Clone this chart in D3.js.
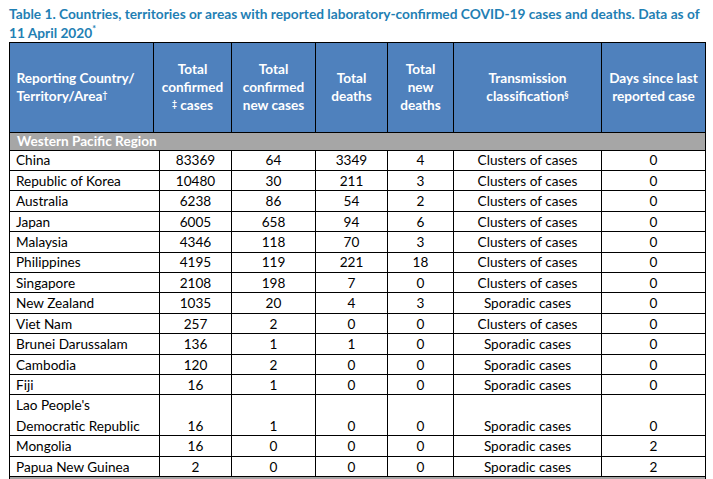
<!DOCTYPE html>
<html>
<head>
<meta charset="utf-8">
<script src="https://cdn.jsdelivr.net/npm/d3@7"></script>
<style>
  html, body { margin: 0; padding: 0; background: #fff; }
  svg { display: block; font-family: Lato, "Open Sans", sans-serif; }
</style>
</head>
<body>
<div id="table-chart"></div>
<script>
'use strict';

// table content
const titleLines = ['Table 1. Countries, territories or areas with reported laboratory-confirmed COVID-19 cases and deaths. Data as of', '11 April 2020'];
const regionName = 'Western Pacific Region';
const countries = ['China', 'Republic of Korea', 'Australia', 'Japan', 'Malaysia', 'Philippines', 'Singapore',
  'New Zealand', 'Viet Nam', 'Brunei Darussalam', 'Cambodia', 'Fiji', "Lao People's\nDemocratic Republic",
  'Mongolia', 'Papua New Guinea'];
const totalCases = [83369, 10480, 6238, 6005, 4346, 4195, 2108, 1035, 257, 136, 120, 16, 16, 16, 2];
const newCases = [64, 30, 86, 658, 118, 119, 198, 20, 2, 1, 2, 1, 1, 0, 0];
const totalDeaths = [3349, 211, 54, 94, 70, 221, 7, 4, 0, 1, 0, 0, 0, 0, 0];
const newDeaths = [4, 3, 2, 6, 3, 18, 0, 3, 0, 0, 0, 0, 0, 0, 0];
const transmission = ['Clusters of cases', 'Clusters of cases', 'Clusters of cases', 'Clusters of cases',
  'Clusters of cases', 'Clusters of cases', 'Clusters of cases', 'Sporadic cases', 'Clusters of cases',
  'Sporadic cases', 'Sporadic cases', 'Sporadic cases', 'Sporadic cases', 'Sporadic cases', 'Sporadic cases'];
const daysSince = [0, 0, 0, 0, 0, 0, 0, 0, 0, 0, 0, 0, 0, 2, 2];
const headerLabels = [
  [['Reporting Country/'], ['Territory/Area', '†']],
  [['Total'], ['confirmed'], ['‡', ' cases']],
  [['Total'], ['confirmed'], ['new cases']],
  [['Total'], ['deaths']],
  [['Total'], ['new'], ['deaths']],
  [['Transmission'], ['classification', '§']],
  [['Days since last'], ['reported case']]
];

(function(d3){
  const W = 713, H = 479;
  const blue = '#4f81bd', grey = '#a6a6a6', titleColor = '#1f80b4';
  const headTop = 42, headBottom = 132, regionBottom = 150, tableBottom = 476.5;
  const headCols = [9.5, 153.5, 231.5, 315.5, 387.5, 453.5, 601.5, 705.5];
  const bodyCols = [9.5, 159.5, 231.5, 315.5, 387.5, 453.5, 601.5, 705.5];
  const fontSize = 13.6;

  const svg = d3.select('#table-chart').append('svg')
    .attr('width', W).attr('height', H);

  // title, shrunk so the first line has the width it has in the report
  const title = svg.append('g').attr('fill', titleColor)
    .attr('font-weight', 'bold').attr('font-size', 14.6);
  const t1 = title.append('text').attr('x', 9).attr('y', 19).text(titleLines[0]);
  const fit = Math.min(1, 691 / t1.node().getComputedTextLength());
  title.attr('font-size', 14.6 * fit);
  const t2 = title.append('text').attr('x', 9).attr('y', 38);
  t2.append('tspan').text(titleLines[1]);
  t2.append('tspan').attr('dy', -6).attr('font-size', 9).text('*');

  // header
  svg.append('rect').attr('x', headCols[0]).attr('y', headTop)
    .attr('width', headCols[7] - headCols[0]).attr('height', headBottom - headTop)
    .attr('fill', blue);

  const headMid = (headTop + headBottom) / 2;
  const lineGap = 18;
  headerLabels.forEach(function(lines, i){
    const left = i === 0;
    const cx = left ? headCols[0] + 7 : (headCols[i] + headCols[i + 1]) / 2;
    const y0 = headMid - (lines.length - 1) * lineGap / 2;
    const txt = svg.append('text')
      .attr('fill', '#fff').attr('font-weight', 'bold').attr('font-size', fontSize)
      .attr('text-anchor', left ? 'start' : 'middle');
    lines.forEach(function(parts, j){
      const line = txt.append('tspan').attr('x', cx).attr('y', y0 + j * lineGap).attr('dy', '0.35em');
      parts.forEach(function(p){
        const sup = p === '†' || p === '‡' || p === '§';
        const t = line.append('tspan').text(p);
        if (sup) t.attr('font-size', 8.5).attr('baseline-shift', '35%');
      });
    });
  });

  // region row
  svg.append('rect').attr('x', headCols[0]).attr('y', headBottom)
    .attr('width', headCols[7] - headCols[0]).attr('height', regionBottom - headBottom)
    .attr('fill', grey);
  svg.append('text').attr('x', 17).attr('y', (headBottom + regionBottom) / 2).attr('dy', '0.35em')
    .attr('fill', '#fff').attr('font-weight', 'bold').attr('font-size', fontSize)
    .text(regionName);

  // body rows, y scale in text lines
  const rowLines = countries.map(function(c){ return c.split('\n').length; });
  const starts = d3.cumsum([0].concat(rowLines));
  const y = d3.scaleLinear().domain([0, d3.sum(rowLines)]).range([regionBottom, tableBottom]);
  const lineH = y(1) - y(0);

  const rows = countries.map(function(c, i){
    return {
      name: c.split('\n'),
      cells: [totalCases[i], newCases[i], totalDeaths[i], newDeaths[i], transmission[i], daysSince[i]],
      top: y(starts[i]),
      bottom: y(starts[i + 1])
    };
  });

  const body = svg.append('g').attr('font-size', fontSize).attr('fill', '#000');
  const row = body.selectAll('g.row').data(rows).enter().append('g').attr('class', 'row');

  row.append('text')
    .attr('x', 16)
    .each(function(d){
      const sel = d3.select(this);
      d.name.forEach(function(n, j){
        sel.append('tspan').attr('x', 16)
          .attr('y', d.top + lineH * (j + 0.5) + 0.5).attr('dy', '0.35em').text(n);
      });
    });

  row.selectAll('text.cell').data(function(d){
    return d.cells.map(function(v, k){ return { v: v, k: k, y: d.bottom - lineH / 2 + 0.5 }; });
  }).enter().append('text')
    .attr('class', 'cell')
    .attr('text-anchor', 'middle')
    .attr('x', function(d){ return (bodyCols[d.k + 1] + bodyCols[d.k + 2]) / 2; })
    .attr('y', function(d){ return d.y; })
    .attr('dy', '0.35em')
    .text(function(d){ return d.v; });

  // grid lines
  const grid = svg.append('g').attr('stroke', '#000').attr('stroke-width', 1).attr('fill', 'none')
    .attr('shape-rendering', 'crispEdges');
  grid.append('line').attr('x1', headCols[0]).attr('x2', headCols[7]).attr('y1', headTop).attr('y2', headTop);
  grid.append('line').attr('x1', headCols[0]).attr('x2', headCols[7]).attr('y1', headBottom).attr('y2', headBottom);
  grid.append('line').attr('x1', headCols[0]).attr('x2', headCols[7]).attr('y1', regionBottom).attr('y2', regionBottom);
  headCols.forEach(function(x){
    grid.append('line').attr('x1', x).attr('x2', x).attr('y1', headTop).attr('y2', headBottom);
  });
  [headCols[0], headCols[7]].forEach(function(x){
    grid.append('line').attr('x1', x).attr('x2', x).attr('y1', headBottom).attr('y2', H);
  });
  bodyCols.slice(1, 7).forEach(function(x){
    grid.append('line').attr('x1', x).attr('x2', x).attr('y1', regionBottom).attr('y2', tableBottom);
  });
  rows.forEach(function(d){
    grid.append('line').attr('x1', headCols[0]).attr('x2', headCols[7]).attr('y1', d.bottom).attr('y2', d.bottom);
  });

  // next region strip, cut off at the bottom
  svg.insert('rect', 'g').attr('x', headCols[0]).attr('y', tableBottom)
    .attr('width', headCols[7] - headCols[0]).attr('height', H - tableBottom)
    .attr('fill', grey);
})(window.d3);
</script>
</body>
</html>
